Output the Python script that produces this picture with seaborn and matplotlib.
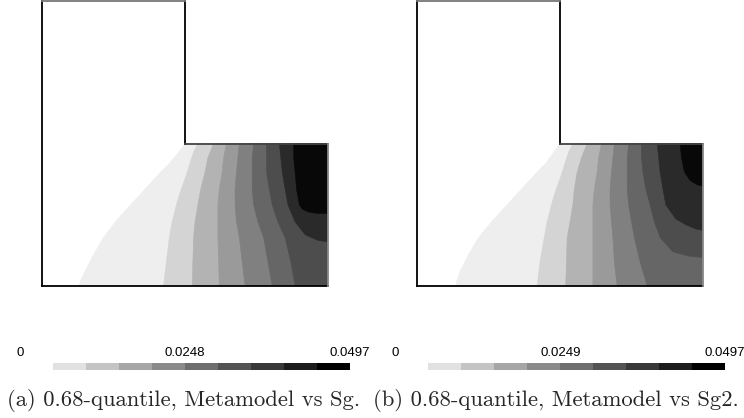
import matplotlib
matplotlib.use("Agg")
import matplotlib.pyplot as plt
from matplotlib.colors import ListedColormap
import numpy as np
import seaborn as sns

# grey levels of the rendered field (lowest band shows as white)
field_colors = ["#ffffff", "#eeeeee", "#d4d4d4", "#b3b3b3", "#9a9a9a",
                "#808080", "#666666", "#4d4d4d", "#2a2a2a", "#080808"]
# blocks of the legend bar
legend_colors = ["#e1e1e1", "#c4c4c4", "#a6a6a6", "#8a8a8a", "#6e6e6e",
                 "#535353", "#383838", "#1c1c1c", "#000000"]

# band edges in domain units (L-shaped domain, x 0..2, y 0..2)
# every edge starts on the step line y=1 and ends on the bottom or the right side
edges_sg = [
    ([1.00, 0.95, 0.89, 0.83, 0.73, 0.62, 0.52, 0.43, 0.36, 0.30, 0.27, 0.26],
     [1.00, 0.93, 0.86, 0.80, 0.69, 0.57, 0.46, 0.34, 0.22, 0.10, 0.04, 0.00]),
    ([1.09, 1.06, 1.04, 1.01, 0.97, 0.94, 0.91, 0.89, 0.87, 0.85],
     [1.00, 0.94, 0.88, 0.78, 0.67, 0.57, 0.45, 0.34, 0.17, 0.00]),
    ([1.20, 1.16, 1.14, 1.11, 1.09, 1.07, 1.06, 1.05],
     [1.00, 0.90, 0.80, 0.68, 0.57, 0.45, 0.34, 0.00]),
    ([1.29, 1.27, 1.26, 1.24, 1.23, 1.23, 1.23, 1.24],
     [1.00, 0.90, 0.80, 0.68, 0.57, 0.45, 0.34, 0.00]),
    ([1.38, 1.37, 1.36, 1.35, 1.35, 1.36, 1.38, 1.40, 1.42],
     [1.00, 0.90, 0.80, 0.68, 0.57, 0.45, 0.34, 0.17, 0.00]),
    ([1.48, 1.47, 1.47, 1.47, 1.48, 1.51, 1.55, 1.58, 1.61],
     [1.00, 0.90, 0.80, 0.68, 0.57, 0.45, 0.34, 0.17, 0.00]),
    ([1.57, 1.57, 1.57, 1.59, 1.61, 1.65, 1.70, 1.74, 1.77],
     [1.00, 0.90, 0.80, 0.68, 0.57, 0.45, 0.34, 0.17, 0.00]),
    ([1.66, 1.67, 1.68, 1.70, 1.72, 1.77, 1.84, 1.93, 2.00],
     [1.00, 0.90, 0.80, 0.68, 0.57, 0.45, 0.36, 0.32, 0.31]),
    ([1.76, 1.76, 1.77, 1.78, 1.80, 1.82, 1.86, 1.92, 2.00],
     [1.00, 0.90, 0.80, 0.68, 0.57, 0.54, 0.52, 0.51, 0.51]),
]
edges_sg2 = [
    ([1.00, 0.95, 0.90, 0.84, 0.74, 0.63, 0.53, 0.43, 0.36, 0.30, 0.28, 0.27],
     [1.00, 0.93, 0.86, 0.80, 0.69, 0.57, 0.46, 0.34, 0.22, 0.10, 0.04, 0.00]),
    ([1.09, 1.06, 1.04, 1.01, 0.97, 0.94, 0.91, 0.89, 0.86, 0.84],
     [1.00, 0.94, 0.88, 0.78, 0.67, 0.57, 0.45, 0.34, 0.17, 0.00]),
    ([1.19, 1.15, 1.12, 1.10, 1.09, 1.07, 1.05, 1.04],
     [1.00, 0.90, 0.80, 0.68, 0.57, 0.45, 0.34, 0.00]),
    ([1.29, 1.27, 1.26, 1.24, 1.23, 1.23, 1.23, 1.23],
     [1.00, 0.90, 0.80, 0.68, 0.57, 0.45, 0.34, 0.00]),
    ([1.38, 1.37, 1.36, 1.35, 1.35, 1.36, 1.37, 1.38, 1.40],
     [1.00, 0.90, 0.80, 0.68, 0.57, 0.45, 0.34, 0.17, 0.00]),
    ([1.48, 1.47, 1.47, 1.47, 1.48, 1.50, 1.52, 1.56, 1.61],
     [1.00, 0.90, 0.80, 0.68, 0.57, 0.45, 0.34, 0.17, 0.00]),
    ([1.57, 1.57, 1.58, 1.60, 1.63, 1.66, 1.70, 1.79, 1.90, 2.00],
     [1.00, 0.90, 0.80, 0.68, 0.57, 0.45, 0.34, 0.24, 0.21, 0.20]),
    ([1.68, 1.69, 1.70, 1.72, 1.74, 1.81, 1.88, 1.95, 2.00],
     [1.00, 0.90, 0.80, 0.68, 0.57, 0.47, 0.43, 0.40, 0.39]),
    ([1.84, 1.85, 1.87, 1.91, 1.96, 2.00],
     [1.00, 0.90, 0.80, 0.74, 0.71, 0.70]),
]

vmax_sg, vmax_sg2 = 0.0497, 0.0497
ticks_sg = [0, 0.0248, 0.0497]
ticks_sg2 = [0, 0.0249, 0.0497]
captions = ["(a) 0.68-quantile, Metamodel vs Sg.",
            "(b) 0.68-quantile, Metamodel vs Sg2."]

sns.set_theme(style="white")
plt.rcParams["font.family"] = ["Liberation Sans", "DejaVu Sans"]

W, H = 744, 418
fig = plt.figure(figsize=(W / 100, H / 100), dpi=100)
fig.patch.set_facecolor("white")


def px_box(x0, y0, x1, y1):
    # pixel box (top-left origin) -> figure fraction rect
    return [x0 / W, (H - y1) / H, (x1 - x0) / W, (y1 - y0) / H]


def draw_field(ax, edges):
    ax.fill([0, 2, 2, 1, 1, 0], [0, 0, 1, 1, 2, 2], color=field_colors[0], lw=0)
    for k, (xs, ys) in enumerate(edges, start=1):
        px, py = list(xs), list(ys)
        if py[-1] == 0:
            px.append(2)
            py.append(0)
        px.append(2)
        py.append(1)
        ax.fill(px, py, color=field_colors[k], lw=0.4, ec=field_colors[k])
    kw = dict(lw=1.3, clip_on=False, solid_capstyle="projecting")
    ax.plot([0, 0], [0, 2], color="black", **kw)
    ax.plot([0, 2], [0, 0], color="black", **kw)
    ax.plot([1, 1], [1, 2], color="black", **kw)
    ax.plot([0, 1], [2, 2], color="#777777", **kw)
    ax.plot([1, 2], [1, 1], color="#444444", **kw)
    ax.plot([2, 2], [0, 1], color="#888888", **kw)
    ax.set_xlim(0, 2)
    ax.set_ylim(0, 2)
    ax.axis("off")


def draw_legend(x_off, ticks, vmax):
    cax = fig.add_axes(px_box(53 + x_off, 363, 350 + x_off, 370))
    sns.heatmap(np.arange(len(legend_colors))[None, :], ax=cax,
                cmap=ListedColormap(legend_colors), cbar=False,
                xticklabels=False, yticklabels=False)
    tax = fig.add_axes(px_box(20 + x_off, 345, 350 + x_off, 361))
    tax.set_xlim(0, vmax)
    tax.set_ylim(0, 1)
    for t in ticks:
        tax.text(t, 0.5, f"{t:g}", ha="center", va="center", fontsize=9.5,
                 color="black")
    tax.axis("off")


caption_x = [184, 556]
for i, (edges, ticks, vmax) in enumerate([(edges_sg, ticks_sg, vmax_sg),
                                           (edges_sg2, ticks_sg2, vmax_sg2)]):
    off = 375 * i
    ax = fig.add_axes(px_box(42 + off, 1, 328 + off, 286))
    draw_field(ax, edges)
    draw_legend(off, ticks, vmax)
    fig.text(caption_x[i] / W, 1 - 401 / H, captions[i], ha="center", va="center",
             fontsize=16.3, family=["cmr10", "DejaVu Serif"])

fig.savefig("out.png", dpi=100)
